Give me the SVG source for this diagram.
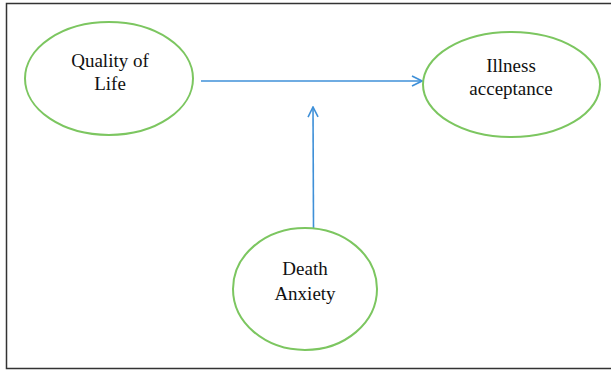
<svg xmlns="http://www.w3.org/2000/svg" width="611" height="370" viewBox="0 0 611 370">
<style>
.node ellipse{fill:#fff;stroke:#7cc660;stroke-width:2}
.node text{font-family:"Liberation Serif","Times New Roman",serif;font-size:19px;fill:#111;text-anchor:middle}
.conn line{stroke:#3f90d8;stroke-width:1.6;fill:none}
</style>
<defs>
<marker id="arr" viewBox="0 0 12 12" refX="11" refY="6" markerWidth="12" markerHeight="12" markerUnits="userSpaceOnUse" orient="auto">
<path d="M1,1 L11,6 L1,11" fill="none" stroke="#3f90d8" stroke-width="1.6"/>
</marker>
</defs>
<rect x="0" y="0" width="611" height="370" fill="#fff"/>
<path d="M612,3.5 H6.5 V368.5 H612" fill="none" stroke="#333" stroke-width="1.5"/>
<g class="conn">
<line x1="201" y1="81" x2="422" y2="81" marker-end="url(#arr)"/>
<line x1="313.5" y1="228" x2="313" y2="107" marker-end="url(#arr)"/>
</g>
<g class="node" id="quality">
<ellipse cx="109" cy="78.5" rx="84" ry="56.5"/>
<text x="110" y="66.5">Quality of</text>
<text x="110" y="90">Life</text>
</g>
<g class="node" id="illness">
<ellipse cx="511.5" cy="84.5" rx="88.5" ry="52.5"/>
<text x="511" y="71.5">Illness</text>
<text x="511" y="95">acceptance</text>
</g>
<g class="node" id="death">
<ellipse cx="305" cy="289" rx="72" ry="61"/>
<text x="305" y="275">Death</text>
<text x="305" y="300">Anxiety</text>
</g>
</svg>
